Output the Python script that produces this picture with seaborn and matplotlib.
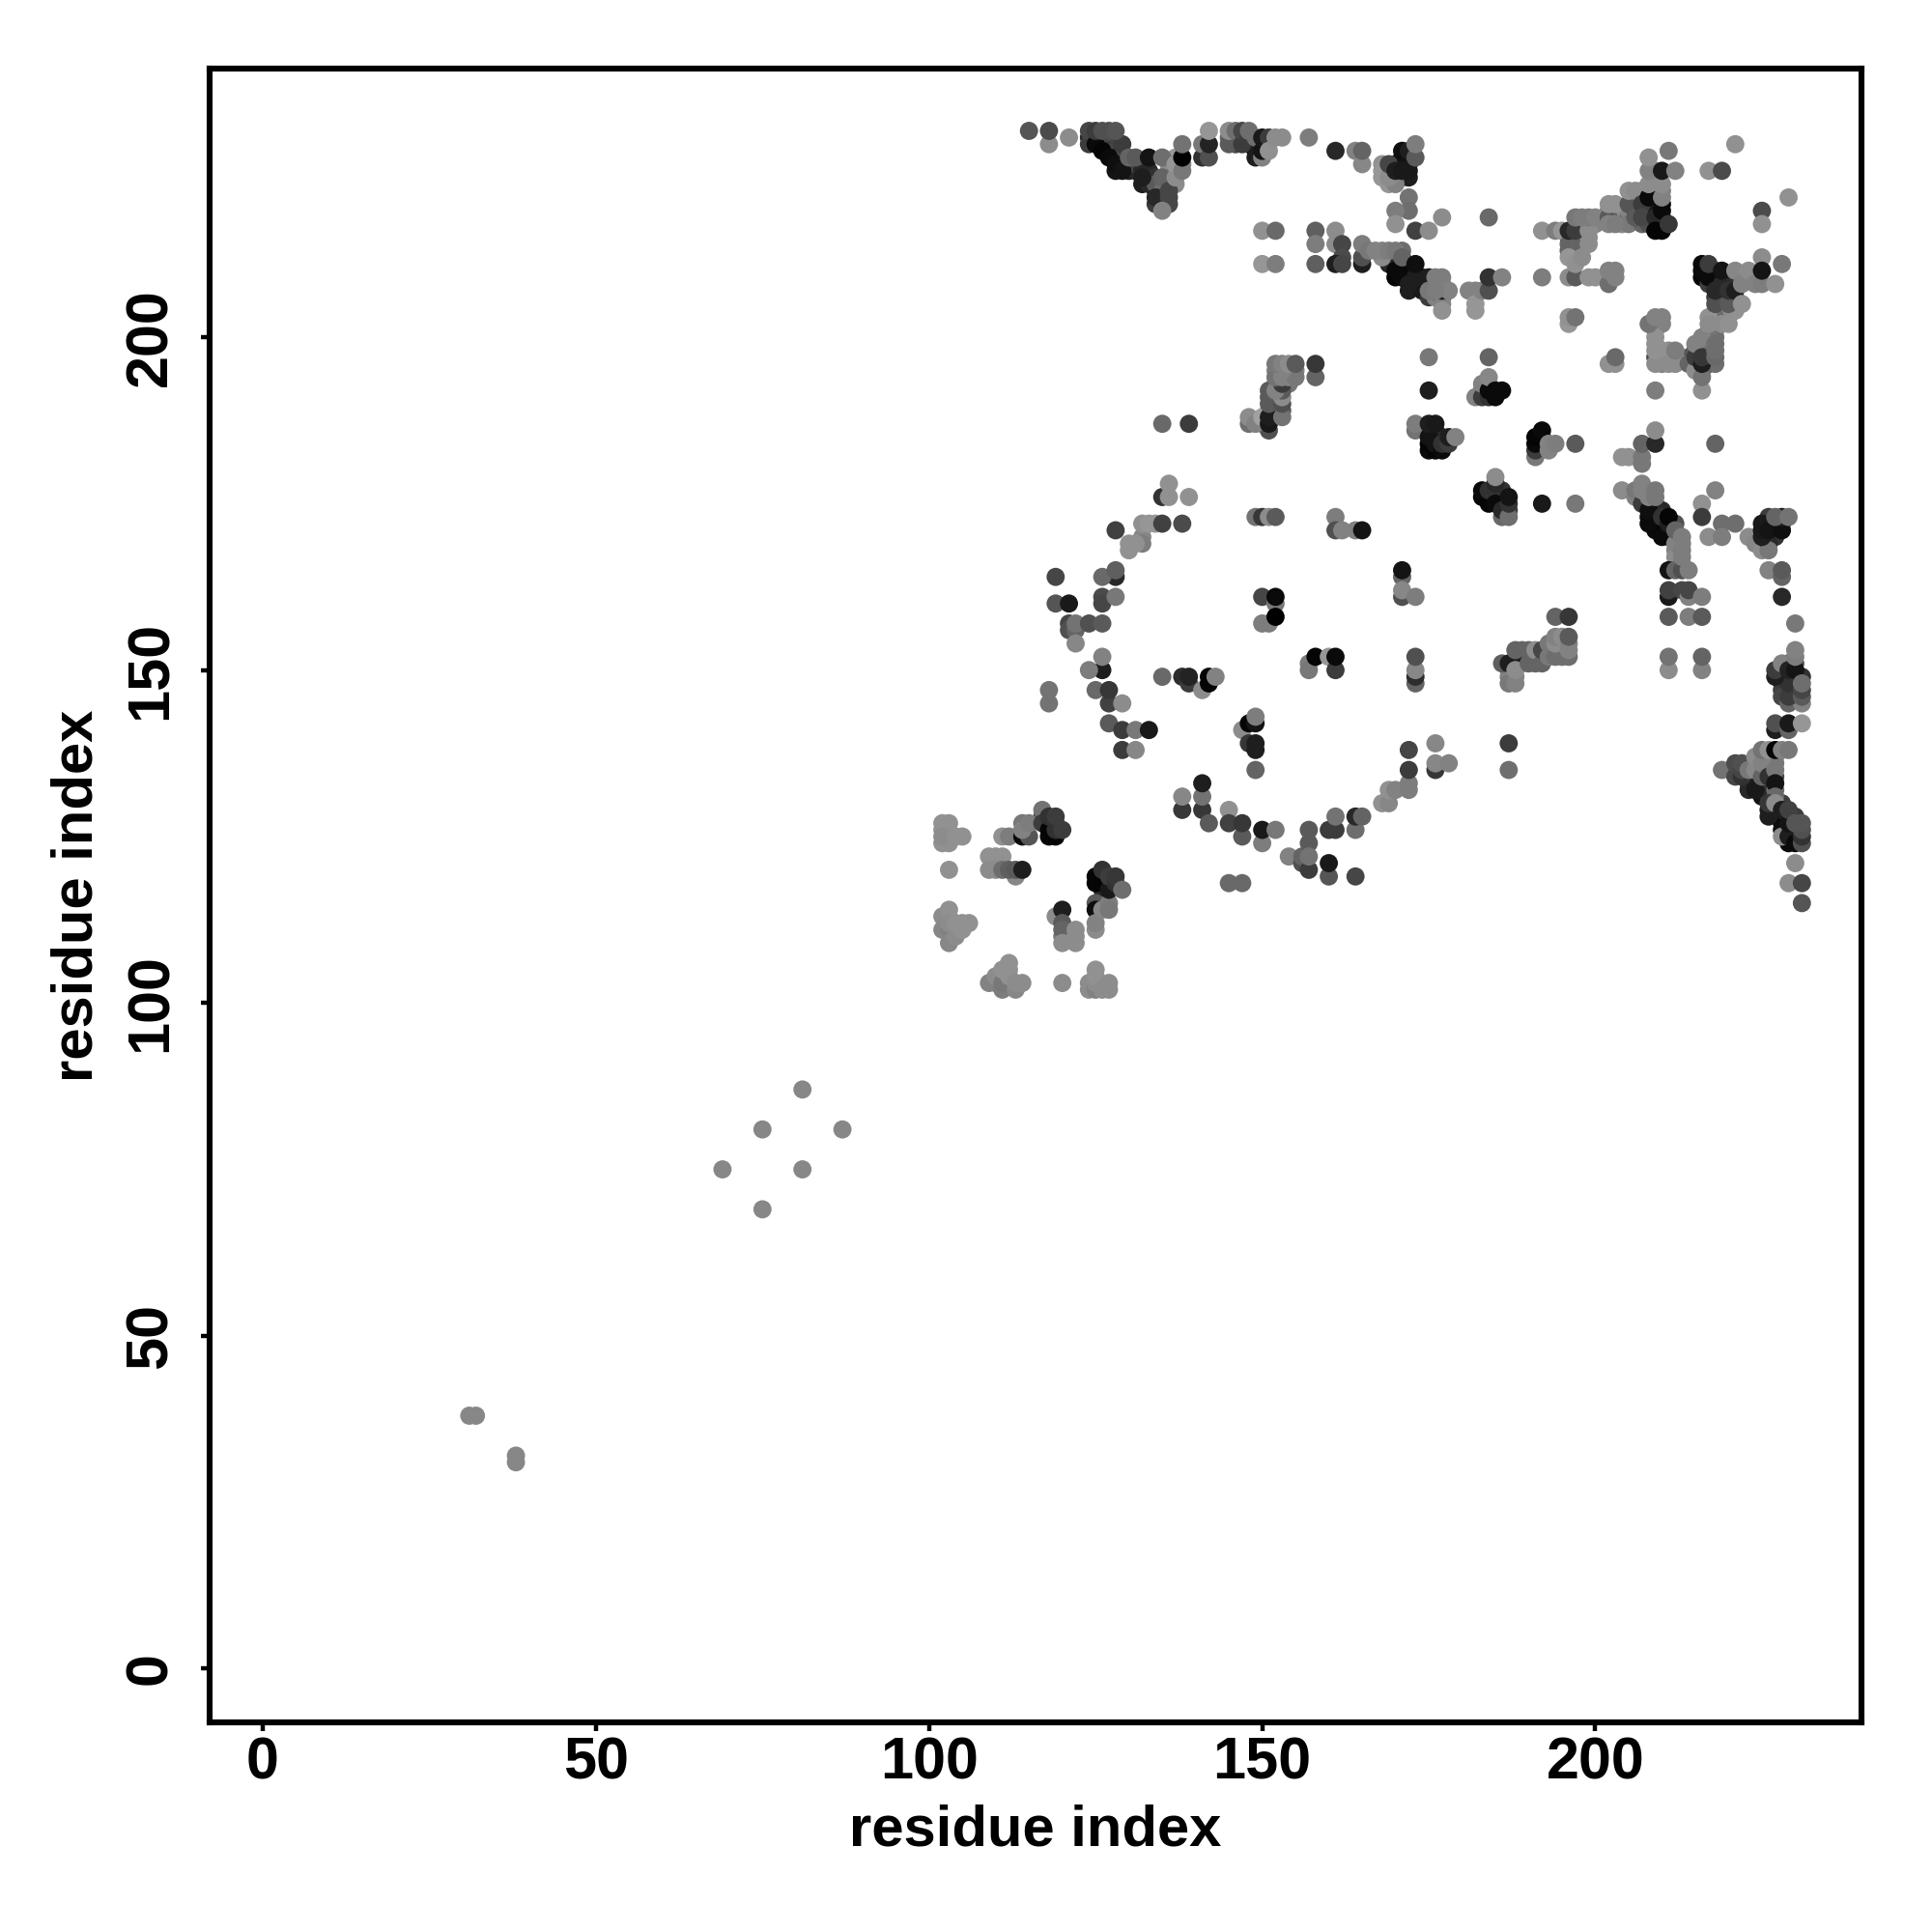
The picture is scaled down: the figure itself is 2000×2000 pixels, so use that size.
import matplotlib
matplotlib.use("Agg")
import matplotlib.pyplot as plt
import seaborn as sns
import pandas as pd

# contacts as (residue i, residue j, grey level 0-255), one list per region
# the *_under lists sit below the others, they are the points mostly hidden in dense patches
top_under = [(124,230,40),(124,229,60),(125,230,55),(126,230,70),(126,229,50),(127,229,70),(127,228,60),(128,228,70),
             (128,227,40),(128,225,20),(129,226,40),(129,227,70),(130,225,30),(130,226,40),(131,225,40),(131,226,70),
             (132,226,80),(132,225,40),(132,223,30),(133,224,30),(133,223,40),(133,225,40),(134,224,50),(134,222,40),
             (134,223,90),(135,222,110),(135,221,90),(135,220,60),(136,220,70),(134,220,60),(137,225,130),
             (137,227,150),(136,225,130),(136,223,140),(138,226,130),(137,223,140),(136,226,140),(146,229,70),
             (147,230,70),(148,229,50),(149,229,60),(149,228,30),(150,229,30),(145,230,100),(146,230,80),
             (170,226,50),(170,224,40),(171,224,30),(171,226,30),(172,226,20),(172,227,25),(171,227,20),(172,224,30),
             (169,225,50),(168,224,150),(169,223,150),(170,224,130)]
diag_under = [(170,211,5),(170,209,5),(171,211,10),(171,210,5),(172,210,10),(172,209,10),(173,208,20),(172,207,30),
              (174,209,30),(174,208,40),(175,208,30),(174,207,25),(176,208,30),(176,207,90),(175,206,60),(177,208,130),
              (176,206,130),(177,206,30),(177,205,130),(169,211,40),(171,213,110),(175,186,30),(176,186,30),
              (176,185,20),(177,185,40),(175,183,10),(176,183,5),(185,176,10),(184,176,20),(185,177,40),(186,176,40),
              (186,175,10),(186,177,50),(187,174,60),(183,176,5),(183,192,60),(184,193,130),(192,184,10)]
upper_under = [(196,215,40),(197,215,50),(198,216,70),(198,214,110),(197,214,100),(196,213,100),(198,217,100),
               (199,217,120),(199,214,140),(199,215,140),(200,217,130),(202,219,130),(203,219,130),(204,218,140),
               (204,217,140),(205,218,100),(205,219,130),(205,217,120),(206,220,120),(206,221,130),(206,219,60),
               (207,222,120),(207,219,60),(207,217,100),(208,220,40),(208,219,30),(208,218,70),(209,220,30),
               (209,219,20),(209,217,10),(210,218,20),(210,217,5),(208,217,80),(209,221,110),(210,220,10),
               (209,222,130),(209,224,140),(209,225,140),(210,222,130)]
block_under = [(216,209,5),(216,211,10),(217,210,5),(217,208,60),(218,209,30),(218,210,40),(218,208,60),(218,206,60),
               (219,209,30),(219,207,40),(219,206,90),(219,205,70),(220,209,40),(220,208,70),(220,206,50),(221,208,50),
               (221,206,80),(220,204,130),(219,204,130),(218,204,140),(221,205,140),(221,204,145),(220,203,145),
               (219,203,140),(218,203,110),(218,202,80),(218,201,120),(217,203,145),(217,201,140),(218,200,110),
               (216,198,60),(216,199,60),(217,198,110),(217,197,40),(217,196,30),(217,199,115),(217,200,115),
               (218,196,110),(215,196,80),(216,195,100),(215,198,90),(216,200,130),(214,197,90),(209,199,145),
               (209,201,145),(210,197,130),(210,196,130),(210,202,130),(211,197,145),(211,198,140),(212,197,140)]
right_under = [(208,175,60),(208,173,15),(209,172,10),(209,173,15),(209,174,40),(209,171,10),(209,175,80),(210,172,10),
               (210,171,5),(210,174,40),(211,171,20),(212,170,60),(212,172,80),(212,168,130),(212,167,140),(213,169,125),
               (213,166,125),(211,170,30),(226,172,25),(226,170,30),(227,172,30),(227,171,30),(225,169,60),(226,173,60),
               (227,170,50),(228,172,40),(228,150,40),(228,149,40),(228,148,50),(228,147,60),(229,149,40),(229,147,50),
               (230,149,50),(230,148,60),(230,147,50),(230,146,60),(231,149,50),(228,146,70),(230,151,70),(229,151,70),
               (223,134,30),(223,133,30),(223,132,40),(224,133,30),(224,134,30),(224,136,130),(225,137,120),(225,135,100),
               (225,133,40),(225,132,50),(225,131,20),(226,137,140),(226,136,100),(226,135,100),(226,133,60),(226,132,50),
               (226,131,40),(226,129,30),(227,137,130),(227,136,120),(227,134,70),(227,132,110),(227,129,20),(228,128,10),
               (228,127,10),(228,130,60),(229,128,40),(229,126,20),(229,124,10),(230,125,20),(230,126,60),(230,128,60)]
mid_under = [(126,119,10),(127,118,20),(126,117,40),(119,127,30),(118,127,20),(117,128,60),(152,195,130),(154,195,130),
             (155,195,130),(152,193,120),(154,193,120),(152,191,100),(152,190,90),(152,189,110),(153,189,90),(151,189,90),
             (151,191,90),(150,187,130),(189,153,100),(189,151,100),(191,151,100),(191,152,110),(193,153,120),
             (195,152,110),(195,153,130),(195,154,140),(192,152,80),(187,149,130),(188,149,130),(187,150,130),
             (189,152,100),(190,152,100),(111,104,140),(110,103,130),(112,103,140)]

low_contacts = [(31,38,135),(32,38,135),(38,32,135),(38,31,135),(81,87,135),(75,81,135),(87,81,135),
                (69,75,135),(81,75,135),(75,69,135)]

block_102 = [(102,127,145),(103,127,145),(102,126,145),(102,124,145),(103,124,145),(102,125,140),(104,125,145),
             (105,125,145),(103,120,145),(111,125,145),(112,125,125),(114,125,10),(115,125,85),(114,127,120),
             (114,126,130),(115,127,125),(109,122,145),(110,122,145),(111,122,145),(109,120,140),(110,120,140),
             (113,119,135),(111,120,110),(112,120,95),(113,120,90),(114,120,30)]
block_117 = [(117,129,115),(117,127,60),(118,126,5),(118,125,5),(119,125,5),(119,126,50),(118,128,50),
             (119,128,60),(120,126,60)]
block_109 = [(102,113,140),(103,114,145),(102,111,135),(103,111,130),(103,112,140),(103,109,135),(104,110,140),
             (104,112,145),(105,111,145),(105,112,145),(106,112,145)]
block_103 = [(109,103,130),(110,104,140),(111,102,125),(111,103,120),(111,105,145),(112,104,145),(112,105,145),
             (112,106,145),(113,102,135),(113,103,140),(114,103,140),(120,103,140),(124,102,140),(124,103,140),
             (125,102,130),(125,103,140),(125,104,145),(125,105,145),(126,102,140),(127,102,140),(127,103,140)]
block_119 = [(119,113,140),(120,114,30),(120,112,90),(120,110,120),(120,111,100),(120,109,140),(122,111,140),
             (122,110,140),(122,109,140),(125,115,90),(125,114,15),(125,111,140),(125,112,130),(126,114,135),
             (127,115,125),(127,114,120),(125,119,5),(125,118,5),(126,118,5),(126,120,50),(127,117,25),
             (127,119,60),(128,118,50),(128,119,55),(129,117,110)]

ring_left = [(119,164,70),(119,160,85),(121,160,25),(128,164,40),(126,164,105),(128,165,95),
             (126,161,75),(126,160,70),(128,161,120),(121,157,70),(121,156,80),(122,156,100),(122,157,115),
             (124,157,80),(126,157,90),(122,154,135),(126,150,30),(124,150,125),(126,152,130),(118,147,115),
             (118,145,115),(125,147,105),(127,145,65),(127,147,55),(129,145,140),(127,142,90),(129,141,60),
             (131,141,120),(133,141,25),(129,138,60),(131,138,135)]
ring_top = [(128,171,65),(132,170,135),(132,169,125),(130,169,145),(131,169,145),(130,168,145),(132,172,145),
            (133,172,150),(134,172,150),(135,172,65),(138,172,75),(135,176,50),(136,176,145),(136,178,145),
            (139,176,145),(135,187,105),(139,187,60)]
ring_inner = [(135,149,105),(138,149,45),(139,148,60),(139,149,35),(141,147,140),(142,149,5),(142,148,5),
              (143,149,130),(147,141,140),(148,142,5),(149,142,20),(149,143,125),(148,139,55),(149,138,30),
              (149,139,30),(149,135,100),(150,161,70),(152,160,120),(152,161,10),(150,157,125),(151,157,125),
              (152,158,0),(149,173,115),(150,173,55),(151,173,140),(152,173,90),(161,173,125),(161,171,80),
              (162,171,130),(164,171,130),(165,171,20),(157,151,125),(157,150,120),(158,152,5),(160,152,150),
              (161,150,60),(161,152,10),(171,164,100),(171,161,80),(171,162,135),(171,165,20),(173,161,125),
              (173,148,100),(173,149,45),(173,150,135),(173,152,80)]
ring_bottom = [(138,129,55),(138,131,135),(141,129,55),(141,131,115),(141,133,30),(142,127,90),(145,129,145),
               (145,127,65),(147,125,90),(147,127,55),(145,118,105),(147,118,105),(150,124,125),(150,126,25),
               (152,126,120),(154,122,130),(156,121,80),(156,122,100),(157,120,60),(157,126,90),(157,124,90),
               (157,122,115),(160,119,85),(160,121,25),(164,119,70),(160,126,60),(161,126,60),(161,128,115),
               (164,126,110),(164,128,40),(165,128,100),(168,130,145),(169,130,135),(169,132,145),(170,132,130),
               (172,132,125),(172,133,125),(172,135,60),(172,138,70),(176,135,55),(176,136,135),(176,139,135),
               (178,136,130)]

top_v = [(115,231,85),(118,229,140),(118,231,75),(121,230,140),(124,231,70),(125,229,10),(125,231,60),(126,228,5),
         (126,231,80),(127,227,10),(127,231,80),(128,226,15),(129,225,20),(129,229,60),(128,231,85),(130,227,100),
         (131,227,90),(132,224,30),(133,227,20),(134,221,40),(135,224,100),(135,227,110),(136,222,70),(136,221,70),
         (135,219,130),(137,224,140),(137,226,150),(138,225,120),(138,227,0),(138,229,115),(141,227,50),
         (141,229,120),(142,227,80),(142,229,35),(142,231,150)]
top_mid = [(145,229,90),(145,231,140),(146,231,110),(147,229,60),(147,231,70),(148,230,60),(148,231,110),
           (149,227,30),(150,227,130),(149,230,110),(150,228,20),(150,230,25),(151,230,60),(151,228,145),
           (152,230,140),(153,230,140),(157,230,125),(161,228,40),(164,228,130),(165,226,135),(165,228,100)]
top_right = [(168,226,145),(168,225,150),(170,223,130),(169,224,140),(169,226,70),(170,225,30),(171,225,25),
             (172,225,25),(171,228,15),(172,228,30),(173,227,90),(173,229,125),(172,221,115),(172,219,110),
             (170,219,125),(170,217,145),(173,216,65),(175,216,140),(177,218,140),(184,218,105)]
row_216 = [(150,216,145),(152,216,105),(158,216,95),(161,216,140),(158,214,125),(161,214,140),(162,214,70),
           (162,212,75),(150,211,150),(152,211,125),(158,211,95),(161,211,30),(162,211,70),(165,211,30),
           (165,212,80),(165,214,125),(166,213,120),(168,212,140),(167,213,130),(168,213,130),(169,213,125),
           (170,213,120)]
diag_170 = [(170,210,10),(171,209,10),(172,208,30),(171,212,100),(173,209,30),(173,211,15),(175,209,30),
            (175,207,120),(176,209,125),(177,207,30),(177,209,125),(178,207,130),(176,207,125),(177,204,145),
            (181,207,130),(182,207,130),(182,205,150),(182,204,150),(183,207,130),(184,207,80),(184,209,50),
            (186,209,130)]

cluster_152 = [(151,186,80),(148,187,110),(148,188,140),(149,187,130),(150,188,160),(151,187,25),(151,188,30),
               (153,188,115),(151,190,90),(153,190,80),(153,191,140),(151,192,90),(153,192,90),(152,192,130),
               (153,193,60),(152,194,115),(153,194,130),(154,194,130),(155,194,120),(158,194,100),(153,195,130),
               (152,196,120),(153,196,130),(154,196,140),(155,196,90),(158,196,55)]
cluster_175 = [(173,186,115),(173,187,125),(175,184,5),(175,185,20),(175,187,30),(176,184,20),(176,187,25),
               (177,183,10),(177,184,50),(178,184,60),(178,185,30),(179,185,130),(175,192,30),(175,197,120),
               (184,197,100),(182,191,130),(183,191,60),(183,193,130),(184,191,50),(184,192,10),(184,194,135),
               (185,191,10),(185,192,10),(186,192,10),(183,177,10),(184,175,5),(184,177,50),(185,175,10),
               (185,178,40),(185,179,140),(186,173,105),(186,174,40),(187,173,110),(187,175,50),(187,176,20),
               (192,175,25),(197,175,120),(197,184,90)]
cluster_191 = [(191,182,120),(191,183,60),(191,184,10),(191,185,5),(192,185,5),(192,186,10),(193,183,130),
               (193,184,130),(194,184,125),(204,182,145),(205,182,145),(207,181,120),(207,182,120),(207,184,100),
               (209,184,40),(209,186,140),(218,184,100)]
cluster_186 = [(186,151,95),(187,148,120),(188,148,130),(187,151,30),(188,151,30),(188,150,140),(188,153,100),
               (190,151,100),(190,153,100),(191,153,140),(192,151,100),(192,153,70),(193,152,120),(193,154,120),
               (194,152,110),(194,154,140),(194,155,130),(195,155,140),(196,152,110),(196,153,130),(196,154,130),
               (196,155,90),(194,158,100),(196,158,55),(187,139,60),(187,135,110)]

upper_196 = [(192,216,145),(194,216,125),(195,216,150),(196,214,100),(196,216,40),(197,216,60),(199,216,140),
             (197,218,120),(198,218,125),(199,218,125),(200,218,130),(192,209,125),(196,212,150),(196,209,140),
             (197,209,90),(197,211,145),(198,212,140),(199,209,145),(200,209,145),(202,208,110),(202,210,130),
             (203,209,130),(203,210,130),(196,202,150),(196,203,145),(197,203,115),(202,196,145),(203,196,145),
             (203,197,105)]
upper_205 = [(202,218,90),(202,217,130),(202,220,145),(203,217,125),(203,220,145),(205,220,85),(205,222,145),
             (206,218,90),(206,222,140),(207,220,60),(207,218,70),(208,221,10),(209,218,40),(209,216,5),(210,216,5),
             (210,219,10),(211,217,55),(208,223,140),(208,225,130),(208,227,145),(210,221,130),(210,223,140),
             (210,225,25),(211,228,120),(212,225,130),(217,225,145),(219,225,75),(221,229,145),(225,219,75),
             (225,217,145),(229,221,145)]
block_209 = [(209,192,125),(209,197,70),(209,196,140),(209,198,145),(209,200,145),(208,202,115),(209,203,130),
             (210,203,130),(210,198,145),(211,196,140),(212,196,140),(212,198,125),(214,196,100),(215,195,140),
             (215,197,60),(215,199,130),(216,192,145),(216,194,115),(216,196,30),(216,197,55),(217,202,140),
             (218,197,105),(218,198,110),(218,199,110),(219,202,140),(220,202,145)]
block_216 = [(216,210,10),(217,209,10),(217,211,60),(218,205,80),(218,207,40),(219,208,40),(219,210,20),
             (220,205,90),(220,207,50),(221,207,30),(221,210,135),(222,205,145),(222,208,130),(223,210,140),
             (224,208,130),(225,208,125),(225,212,140),(225,210,20),(227,208,145),(228,211,120)]

right_207 = [(204,177,140),(206,176,130),(206,177,120),(207,175,60),(207,177,130),(207,178,130),(208,172,10),
             (208,174,15),(208,176,130),(209,176,120),(209,177,120),(210,170,10),(210,173,50),(211,172,30),
             (211,173,5),(211,165,20),(212,165,100),(213,165,80),(212,169,130),(212,171,100),(213,167,125),
             (213,168,125),(213,170,125),(214,165,125),(211,161,25),(211,162,65),(213,162,70),(214,161,130),
             (214,162,70),(216,161,125),(211,158,90),(214,158,125),(216,158,90),(211,150,140),(211,152,115),
             (216,150,130),(216,152,100)]
right_216 = [(218,177,130),(216,175,145),(216,173,60),(219,172,110),(221,172,110),(217,170,140),(219,170,125),
             (223,170,140),(224,169,135),(225,168,140),(226,169,40),(226,168,120),(225,170,30),(225,171,25),
             (225,172,25),(226,171,20),(228,171,15),(228,173,30),(227,173,100),(229,173,115),(226,165,130),
             (228,164,100),(228,165,90),(228,161,40),(230,157,120)]
right_228 = [(229,145,100),(231,145,130),(229,146,60),(231,146,90),(229,148,50),(231,147,70),(227,149,30),
             (227,150,60),(228,151,130),(229,150,35),(230,150,20),(230,152,125),(230,153,130),(231,148,110),
             (227,141,30),(227,142,80),(229,141,100),(229,142,25),(231,142,150)]
right_219 = [(219,135,115),(221,134,70),(221,136,75),(222,134,50),(222,135,70),(222,136,80),(223,135,120),
             (224,132,25),(224,135,135),(224,137,140),(225,134,100),(225,136,130),(225,138,115),(226,138,145),
             (226,134,50),(227,138,5),(228,138,130),(229,138,120),(227,135,120),(227,133,20),(227,131,105),
             (226,128,30),(226,130,55),(227,130,140),(228,126,15),(228,125,140),(229,125,30),(230,124,10),
             (228,129,30),(229,127,20),(229,129,65),(231,124,80),(231,125,50),(231,126,80),(230,127,85),
             (231,127,85),(230,121,140),(229,118,140),(231,118,70),(231,115,85)]

regions = [top_under, diag_under, upper_under, block_under, right_under, mid_under,
           low_contacts, block_102, block_117, block_109, block_103, block_119, ring_left, ring_top, ring_inner,
           ring_bottom, top_v, top_mid, top_right, row_216, diag_170, cluster_152, cluster_175, cluster_191,
           cluster_186, upper_196, upper_205, block_209, block_216, right_207, right_216, right_228, right_219]
df = pd.DataFrame([p for r in regions for p in r], columns=["i", "j", "shade"])

plt.rcParams["font.family"] = ["Liberation Sans", "DejaVu Sans"]
plt.rcParams["font.weight"] = "bold"

fig = plt.figure(figsize=(10, 10), dpi=200)
ax = fig.add_axes([0.1084, 0.1084, 0.8553, 0.8559])
sns.scatterplot(data=df, x="i", y="j", hue="shade", palette="gray", hue_norm=(0, 255),
                s=46, linewidth=0, legend=False, ax=ax)

ax.set_xlim(-8, 240)
ax.set_ylim(-8.1, 240.3)
ax.set_xticks([0, 50, 100, 150, 200])
ax.set_yticks([0, 50, 100, 150, 200])
ax.tick_params(axis="x", direction="out", length=3.2, width=1.6, labelsize=22, pad=1.8)
ax.tick_params(axis="y", direction="out", length=3.2, width=1.6, labelsize=22, pad=8.2)
for t in ax.get_yticklabels():
    t.set_rotation(90)
    t.set_va("center")
for s in ax.spines.values():
    s.set_linewidth(2.2)
ax.set_xlabel("residue index", fontsize=21.5, fontweight="bold", labelpad=4.8)
ax.set_ylabel("residue index", fontsize=21.5, fontweight="bold", labelpad=7.5)

fig.savefig("out.png", dpi=200)
